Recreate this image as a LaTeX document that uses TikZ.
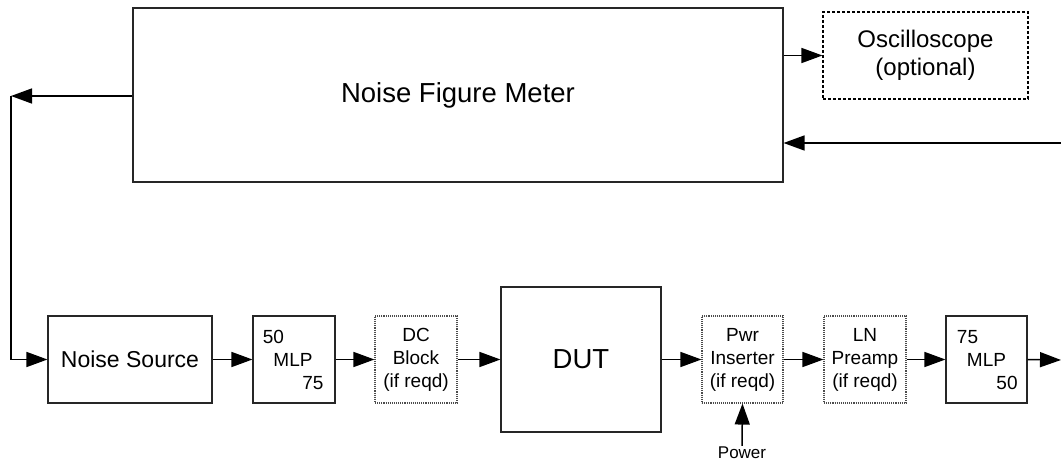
\documentclass[tikz,border=0pt]{standalone}
\usepackage{fontspec}
\setmainfont{Liberation Sans}
\usetikzlibrary{arrows.meta,calc}
\begin{document}
\begin{tikzpicture}[x=1pt,y=-1pt,
  blk/.style={draw=black!85,line width=1.1pt,minimum width=82pt,minimum height=87pt,inner sep=0pt,align=center,font=\fontsize{19}{23}\selectfont},
  optbox/.style={blk,draw=black!70,densely dotted},
  arr/.style={line width=1.5pt,-{Triangle[length=21pt,width=15pt]}},
  lbl/.style={inner sep=0pt,font=\fontsize{19}{20}\selectfont}
]
\useasboundingbox (0,0) rectangle (1061,462);
\node[blk,minimum width=650pt,minimum height=174pt,font=\fontsize{27.5}{30}\selectfont] (nfm) at (458,95) {Noise Figure Meter};
\node[blk,draw=black,dash pattern=on 3pt off 2pt,minimum width=205pt,font=\fontsize{24}{28}\selectfont] (osc) at (925.5,55.5) {Oscilloscope\\(optional)};
\node[blk,minimum width=164pt,font=\fontsize{23}{26}\selectfont] (ns) at (130,359.5) {Noise Source};
\node[blk] (m1) at (294,359.5) {};
\node[optbox] (dcb) at (416,359.5) {DC\\Block\\(if reqd)};
\node[blk,minimum width=160pt,minimum height=145pt,font=\fontsize{27.5}{30}\selectfont] (dut) at (581,359.5) {DUT};
\node[optbox,minimum width=81pt] (pwr) at (742.5,359.5) {Pwr\\Inserter\\(if reqd)};
\node[optbox] (lna) at (865,359.5) {LN\\Preamp\\(if reqd)};
\node[blk,minimum width=81pt] (m2) at (986.5,359.5) {};
\node[lbl] (m1a) at ($(m1.center)+(-20.5,-22.5)$) {50};
\node[lbl] (m1b) at ($(m1.center)+(-1,0)$) {MLP};
\node[lbl] (m1c) at ($(m1.center)+(19,23.5)$) {75};
\node[lbl] (m2a) at ($(m2.center)+(-19,-22.5)$) {75};
\node[lbl] (m2b) at ($(m2.center)+(0,0)$) {MLP};
\node[lbl] (m2c) at ($(m2.center)+(20.5,23.5)$) {50};
\node[inner sep=1pt,font=\fontsize{17}{18}\selectfont] (pw) at (742,453) {Power};
\coordinate (c1) at (11,96);
\coordinate (c2) at (1061,143);
\coordinate (c3) at (1061,360);
\draw[arr] (nfm.west |- c1) -- (c1);
\draw[arr] (c1) |- (ns.west);
\draw[arr] (nfm.east |- osc.west) -- (osc.west);
\draw[arr] (c2) -- (nfm.east |- c2);
\draw[arr] (ns.east) -- (m1.west);
\draw[arr] (m1.east) -- (dcb.west);
\draw[arr] (dcb.east) -- (dut.west);
\draw[arr] (dut.east) -- (pwr.west);
\draw[arr] (pwr.east) -- (lna.west);
\draw[arr] (lna.east) -- (m2.west);
\draw[arr] (m2.east) -- (c3);
\draw[arr] (pw.north) -- (pwr.south);
\end{tikzpicture}
\end{document}
